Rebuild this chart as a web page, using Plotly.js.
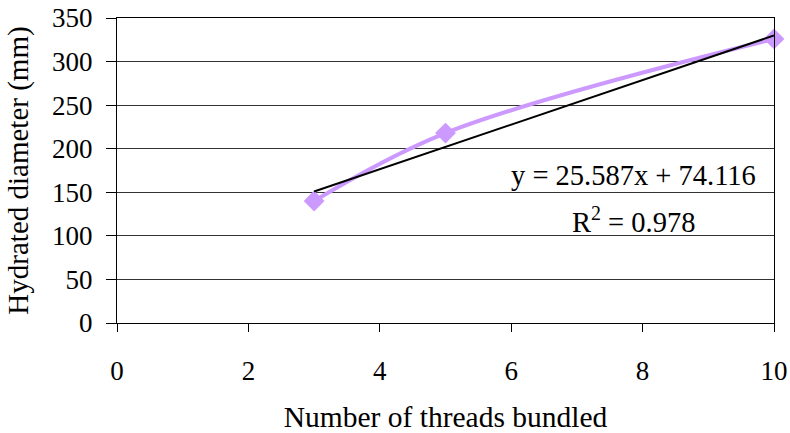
<!DOCTYPE html>
<html>
<head>
<meta charset="utf-8">
<script src="https://cdn.plot.ly/plotly-3.0.1.min.js"></script>
<style>html,body{margin:0;padding:0;background:#fff;}#chart{width:790px;height:433px;}</style>
</head>
<body>
<div id="chart"></div>
<script>
// Data
const threads = [3, 5, 10];
const diameter = [140, 218, 326];
const trendSlope = 25.587;
const trendIntercept = 74.116;
const trendX = [3, 10];
const xTicks = [0, 2, 4, 6, 8, 10];
const yTicks = [0, 50, 100, 150, 200, 250, 300, 350];
const eqText = "y = 25.587x + 74.116";
const r2Text = "R<sup>2</sup> = 0.978";

const trendY = trendX.map(x => trendSlope * x + trendIntercept);
const serif = "Liberation Serif";

const traces = [
  {
    x: threads, y: diameter, type: 'scatter', mode: 'lines+markers',
    line: {color: '#CC99FF', width: 4, shape: 'spline', smoothing: 1},
    marker: {symbol: 'diamond', size: 16, color: '#CC99FF'},
    cliponaxis: false,
    hoverinfo: 'skip', showlegend: false
  },
  {
    x: trendX, y: trendY, type: 'scatter', mode: 'lines',
    line: {color: '#000000', width: 2},
    cliponaxis: false,
    hoverinfo: 'skip', showlegend: false
  }
];

const layout = {
  width: 790, height: 433,
  margin: {l: 117, r: 16, t: 18, b: 110},
  paper_bgcolor: '#fff', plot_bgcolor: '#fff',
  font: {family: serif, color: '#000', size: 26},
  xaxis: {
    range: [0, 10], tickvals: xTicks, ticktext: xTicks.map(String),
    showgrid: false, zeroline: false,
    showline: true, linecolor: '#000', linewidth: 1, mirror: true,
    ticks: 'outside', ticklen: 8, tickcolor: '#000', tickwidth: 1,
    ticklabelstandoff: 16,
    tickfont: {family: serif, size: 27},
    title: {text: 'Number of threads bundled', font: {family: serif, size: 29.5}, standoff: 37}
  },
  yaxis: {
    range: [0, 350], tickvals: yTicks, ticktext: yTicks.map(String),
    showgrid: true, gridcolor: '#333', gridwidth: 1, zeroline: false,
    showline: true, linecolor: '#000', linewidth: 1, mirror: true,
    ticks: 'outside', ticklen: 10, tickcolor: '#000', tickwidth: 1,
    ticklabelstandoff: 8,
    tickfont: {family: serif, size: 27},
    title: {text: 'Hydrated diameter (mm)', font: {family: serif, size: 29}, standoff: 14}
  },
  annotations: [
    {xref: 'x', yref: 'y', x: 7.86, y: 169, text: eqText, showarrow: false,
     font: {family: serif, size: 28.5, color: '#000'}, xanchor: 'center', yanchor: 'middle'},
    {xref: 'x', yref: 'y', x: 7.86, y: 118, text: r2Text, showarrow: false,
     font: {family: serif, size: 28.5, color: '#000'}, xanchor: 'center', yanchor: 'middle'}
  ]
};

Plotly.newPlot('chart', traces, layout, {displayModeBar: false, staticPlot: true});
</script>
</body>
</html>
